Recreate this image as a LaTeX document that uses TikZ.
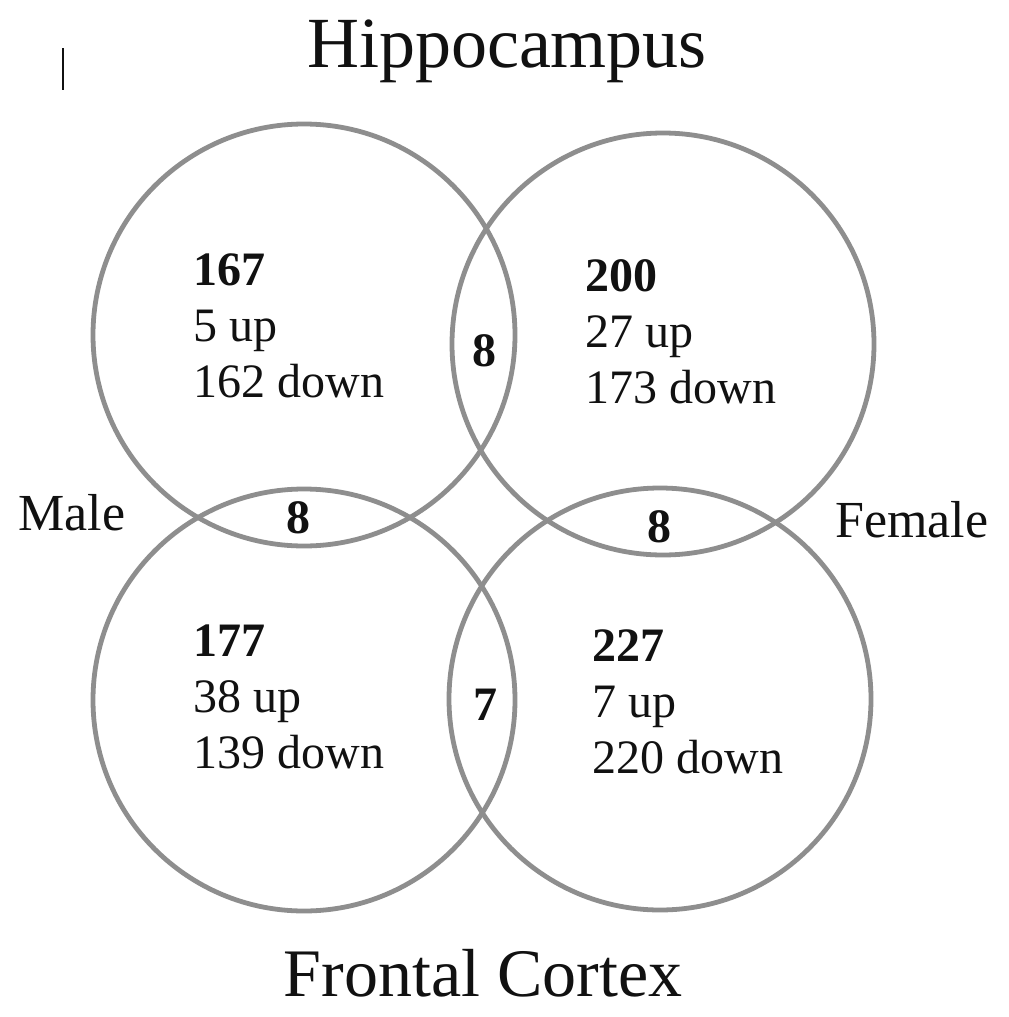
\documentclass[tikz,border=0pt]{standalone}
\usepackage{fontspec}
\setmainfont{Liberation Serif}
\usepackage{xcolor}
\usepackage{tikz}
\usetikzlibrary{positioning}
\definecolor{ringc}{HTML}{8E8E8E}
\definecolor{inkc}{HTML}{111111}
\tikzset{
  ring/.style={draw=ringc,line width=2.4pt},
  cnt/.style={font=\fontsize{24}{28}\selectfont,align=left,anchor=base west,inner sep=0pt,text=inkc},
  ovl/.style={font=\fontsize{24}{28}\selectfont\bfseries,inner sep=0pt,text=inkc},
  ttl/.style={anchor=base,inner sep=0pt,text=inkc},
  sx/.style={font=\fontsize{26}{30}\selectfont,anchor=base west,inner sep=0pt,text=inkc}
}
\begin{document}
\begin{tikzpicture}[x=0.5pt,y=-0.5pt]
\fill[white] (0,0) rectangle (1008,1017);
\useasboundingbox (0,0) rectangle (1008,1017);
% the four sets
\foreach \cx/\cy in {304/335,663/344,304/700,660/699}
  \draw[ring] (\cx,\cy) circle (211);
% titles
\node[ttl,font=\fontsize{36}{40}\selectfont] (hipT) at (507,67) {Hippocampus};
\node[ttl,font=\fontsize{34}{38}\selectfont] (fctT) at (483,996) {Frontal Cortex};
\node[sx] (maleT) at (18,530) {Male};
\node[sx] (femT) at (835,537) {Female};
\draw[inkc,line width=1pt] (63,48)--(63,90);
% counts (base = last line)
\node[cnt] (hipM) at (193,397) {\textbf{167}\\5 up\\162 down};
\node[cnt] (hipF) at (585,403) {\textbf{200}\\27 up\\173 down};
\node[cnt] (fctM) at (193,768) {\textbf{177}\\38 up\\139 down};
\node[cnt] (fctF) at (592,773) {\textbf{227}\\7 up\\220 down};
% overlaps
\node[ovl] (hipMF) at (484,351) {8};
\node[ovl] (maleHF) at (298,518) {8};
\node[ovl] (femHF) at (659,527) {8};
\node[ovl] (fctMF) at (485,705) {7};
\end{tikzpicture}
\end{document}
